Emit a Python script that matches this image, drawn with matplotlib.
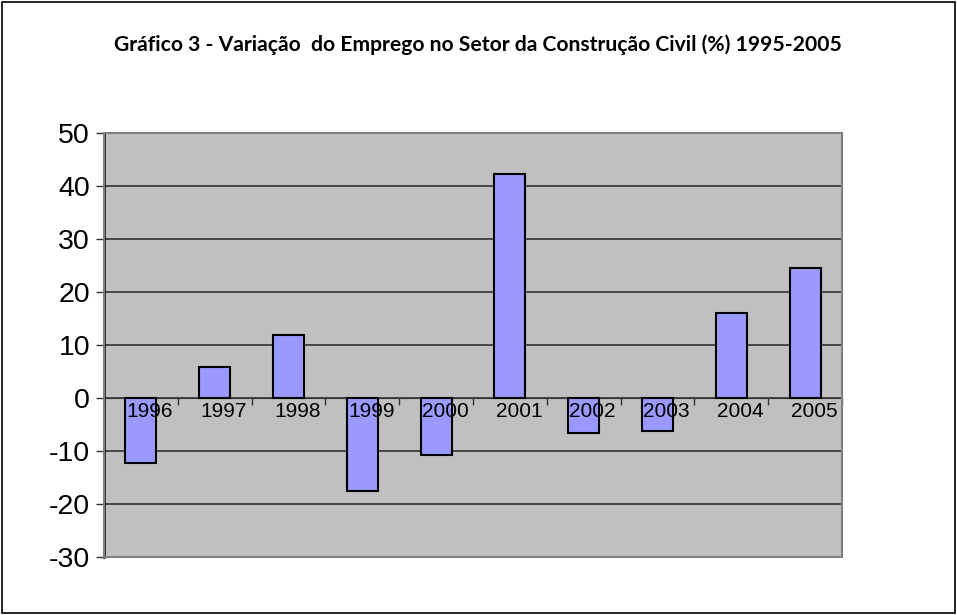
import numpy as np
import matplotlib
matplotlib.use('Agg')
import matplotlib.pyplot as plt
from matplotlib.patches import Rectangle

years = ['1996', '1997', '1998', '1999', '2000', '2001', '2002', '2003', '2004', '2005']
variacao = [-12.2, 5.9, 11.9, -17.5, -10.8, 42.2, -6.6, -6.2, 16.0, 24.5]
y_ticks = [-30, -20, -10, 0, 10, 20, 30, 40, 50]
title = 'Gráfico 3 - Variação  do Emprego no Setor da Construção Civil (%) 1995-2005'

fig = plt.figure(figsize=(9.57, 6.15), dpi=100)
fig.patches.append(Rectangle((0.002, 0.003), 0.996, 0.994, transform=fig.transFigure,
                             fill=False, edgecolor='black', linewidth=1.2))

ax = fig.add_axes([0.1087, 0.0943, 0.7711, 0.6894])
ax.set_facecolor('#c0c0c0')

x = np.arange(len(years))
ax.bar(x, variacao, width=0.42, color='#9999ff', edgecolor='black', linewidth=1.5, zorder=3)

ax.set_xlim(-0.5, len(years) - 0.5)
ax.set_ylim(y_ticks[0], y_ticks[-1])
ax.set_yticks(y_ticks)
ax.set_yticklabels([str(t) for t in y_ticks], fontsize=20.5, family='Liberation Sans')
ax.yaxis.grid(True, color='#333333', linewidth=1.2, zorder=1)
ax.tick_params(axis='y', length=6, width=1, direction='out', pad=4, color='#333333')

# category axis sits on zero, small ticks between categories
ax.spines['bottom'].set_position(('data', 0))
ax.spines['bottom'].set_color('#333333')
ax.set_xticks(np.arange(len(years) + 1) - 0.5)
ax.set_xticklabels([])
ax.tick_params(axis='x', length=5, width=1, direction='out', color='#333333')
for i, yr in enumerate(years):
    ax.annotate(yr, xy=(i, 0), xytext=(9, -4), textcoords='offset pixels',
                ha='center', va='top', fontsize=15, family='Liberation Sans', zorder=4)

for side in ['top', 'right']:
    ax.spines[side].set_visible(False)
ax.spines['left'].set_color('black')
ax.spines['left'].set_linewidth(1.8)
ax.add_patch(Rectangle((0, 0), 1, 1, transform=ax.transAxes, fill=False,
                       edgecolor='#808080', linewidth=1.5, zorder=5, clip_on=False))

fig.text(0.499, 0.927, title, ha='center', va='center', fontsize=15.2,
         fontweight='bold', family='Lato')

fig.savefig('out.png', dpi=100)
